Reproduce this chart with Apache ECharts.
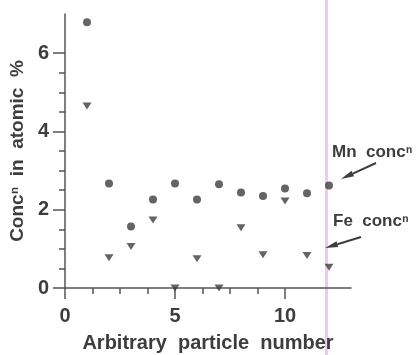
<!DOCTYPE html>
<html>
<head>
<meta charset="utf-8">
<script src="https://cdn.jsdelivr.net/npm/echarts@6/dist/echarts.min.js"></script>
<style>
  html, body { margin: 0; padding: 0; background: #fff; }
  #chart { width: 419px; height: 355px; }
</style>
</head>
<body>
<div id="chart"></div>
<script>
// particle index 1..12
const particles = [1, 2, 3, 4, 5, 6, 7, 8, 9, 10, 11, 12]
const mnConc = [6.79, 2.67, 1.57, 2.26, 2.67, 2.26, 2.65, 2.44, 2.35, 2.54, 2.42, 2.62]
const feConc = [4.65, 0.77, 1.06, 1.74, 0.0, 0.75, 0.0, 1.54, 0.85, 2.22, 0.83, 0.53]

const xMajorTicks = [0, 5, 10]
const xMinorTicks = [1.25, 2.5, 3.75, 6.25, 7.5, 8.75]
const yMajorTicks = [0, 2, 4, 6]
const yMinorTicks = [0.5, 1, 1.5, 2.5, 3, 3.5, 4.5, 5, 5.5]

const INK = '#3d3d3d'
const FONT = '"Liberation Sans", Arial, sans-serif'

// small helper: line with a filled arrow head at (x2, y2)
function arrow(x1, y1, x2, y2) {
  const dx = x2 - x1, dy = y2 - y1
  const len = Math.hypot(dx, dy)
  const ux = dx / len, uy = dy / len
  const bx = x2 - ux * 13, by = y2 - uy * 13
  const nx = -uy * 3, ny = ux * 3
  return [
    { type: 'line', shape: { x1, y1, x2: bx, y2: by }, style: { stroke: INK, lineWidth: 2 } },
    { type: 'polygon', shape: { points: [[x2, y2], [bx + nx, by + ny], [bx - nx, by - ny]] }, style: { fill: INK } },
  ]
}

const chart = echarts.init(document.getElementById('chart'), null, { renderer: 'canvas' })

const axisLine = { show: true, onZero: false, lineStyle: { color: '#555', width: 1.5 } }
const labelStyle = { color: INK, fontSize: 20, fontWeight: 'bold', fontFamily: FONT }

chart.setOption({
  animation: false,
  grid: { left: 65, right: 68, top: 14, bottom: 67, containLabel: false, outerBoundsMode: 'none' },
  xAxis: [
    {
      type: 'value', min: 0, max: 13, position: 'bottom',
      axisLine,
      axisTick: { show: true, customValues: xMajorTicks, length: 11, lineStyle: { color: '#555', width: 1.5 } },
      axisLabel: { customValues: xMajorTicks, margin: 18, ...labelStyle },
      splitLine: { show: false },
      name: 'Arbitrary  particle  number', nameLocation: 'middle', nameGap: 45,
      nameTextStyle: { ...labelStyle, fontSize: 20 },
    },
    {
      type: 'value', min: 0, max: 13, position: 'bottom', gridIndex: 0,
      axisLine: { show: false },
      axisTick: { show: true, customValues: xMinorTicks, length: 6, lineStyle: { color: '#555', width: 1.5 } },
      axisLabel: { show: false },
      splitLine: { show: false },
    },
  ],
  yAxis: [
    {
      type: 'value', min: 0, max: 7, position: 'left',
      axisLine,
      axisTick: { show: true, customValues: yMajorTicks, length: 12, lineStyle: { color: '#555', width: 1.5 } },
      axisLabel: { customValues: yMajorTicks, margin: 16, ...labelStyle },
      splitLine: { show: false },
      name: 'Conc\u207F  in  atomic  %', nameLocation: 'middle', nameGap: 36, nameRotate: 90,
      nameTextStyle: { ...labelStyle, fontSize: 19 },
    },
    {
      type: 'value', min: 0, max: 7, position: 'left', gridIndex: 0,
      axisLine: { show: false },
      axisTick: { show: true, customValues: yMinorTicks, length: 6, lineStyle: { color: '#555', width: 1.5 } },
      axisLabel: { show: false },
      splitLine: { show: false },
    },
  ],
  series: [
    {
      name: 'Mn', type: 'scatter', symbol: 'circle', symbolSize: 8,
      itemStyle: { color: INK },
      data: particles.map((p, i) => [p, mnConc[i]]),
    },
    {
      name: 'Fe', type: 'scatter', symbol: 'triangle', symbolSize: [9, 7], symbolRotate: 180,
      itemStyle: { color: INK },
      data: particles.map((p, i) => [p, feConc[i]]),
    },
  ],
  graphic: [
    // pink vertical stripe over the whole figure
    { type: 'rect', z: -1, shape: { x: 325, y: 0, width: 3, height: 355 }, style: { fill: '#f3c6f1' } },
    { type: 'text', x: 332, y: 152, style: { text: 'Mn  conc\u207F', font: 'bold 17px ' + FONT, fill: INK, textVerticalAlign: 'middle' } },
    { type: 'text', x: 333, y: 221, style: { text: 'Fe  conc\u207F', font: 'bold 17px ' + FONT, fill: INK, textVerticalAlign: 'middle' } },
    ...arrow(376, 163, 341, 179),
    ...arrow(361, 237, 325, 248),
  ],
})
</script>
</body>
</html>
